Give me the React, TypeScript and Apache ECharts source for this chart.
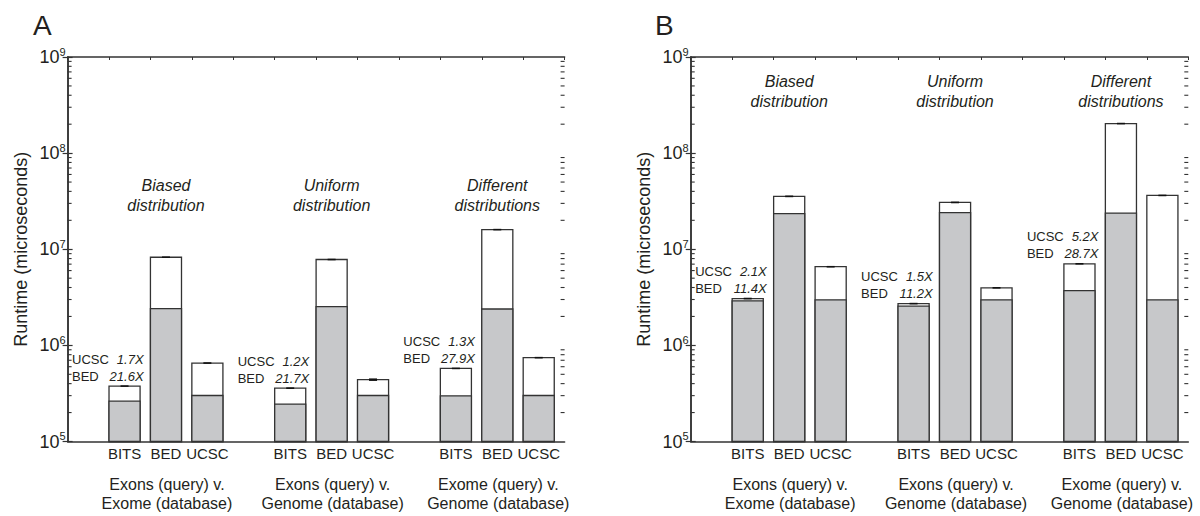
import React, { useEffect, useRef } from "react";
import * as echarts from "echarts";

// ---------- data ----------
const tools = ["BITS", "BED", "UCSC"];
const comparisons = [
  "Exons (query) v.\nExome (database)",
  "Exons (query) v.\nGenome (database)",
  "Exome (query) v.\nGenome (database)",
];
const distributions = ["Biased\ndistribution", "Uniform\ndistribution", "Different\ndistributions"];
const panelLetters = ["A", "B"];

// Panel A (runtime, microseconds): total bar height and grey (lower) part
const totalA = [3.77e5, 8.26e6, 6.55e5, 3.59e5, 7.82e6, 4.4e5, 5.76e5, 1.6e7, 7.45e5];
const greyA = [2.63e5, 2.41e6, 3.01e5, 2.45e5, 2.53e6, 3.01e5, 2.99e5, 2.39e6, 3.01e5];
const errA = [0.01, 0.006, 0.02, 0.02, 0.01, 0.03, 0.006, 0.006, 0.015];
const speedUcscA = ["1.7X", "1.2X", "1.3X"];
const speedBedA = ["21.6X", "21.7X", "27.9X"];

// Panel B
const totalB = [3.07e6, 3.55e7, 6.58e6, 2.72e6, 3.07e7, 3.97e6, 7.06e6, 2.03e8, 3.63e7];
const greyB = [2.91e6, 2.35e7, 2.98e6, 2.56e6, 2.4e7, 2.98e6, 3.72e6, 2.38e7, 2.98e6];
const errB = [0.02, 0.02, 0.015, 0.015, 0.02, 0.015, 0.015, 0.01, 0.006];
const speedUcscB = ["2.1X", "1.5X", "5.2X"];
const speedBedB = ["11.4X", "11.2X", "28.7X"];

// level (in runtime units) at which the distribution captions sit
const captionLevel = [3.6e7, 4.4e8];

const yMin = 1e5;
const yMax = 1e9;
const decades = [5, 6, 7, 8];
const minorMult = [2, 3, 4, 5, 6, 7, 8, 9];

// ---------- style ----------
const FONT = '"Liberation Sans", Arial, Helvetica, sans-serif';
const TXT = "#231f20";
const AX = "#333333";
const GREY = "#c7c8ca";
const BAR_W = 0.75;

function panelSeries(p: number, totals: number[], greys: number[], errs: number[], ucsc: string[], bed: string[]) {
  const xi = p * 2;
  const yi = p * 2;
  const barData = totals.map((t, i) => {
    const g = Math.floor(i / 3);
    const j = i % 3;
    return [g * 4 + j + 1, t, greys[i], errs[i], j];
  });
  const groupData = [0, 1, 2].map((g) => [g * 4 + 1, totals[g * 3], g]);
  const minorData: number[][] = [];
  decades.forEach((d) => minorMult.forEach((m) => minorData.push([0, m * Math.pow(10, d)])));

  const bars = {
    type: "custom",
    xAxisIndex: xi,
    yAxisIndex: yi,
    data: barData,
    z: 3,
    renderItem: (params: any, api: any) => {
      const x0 = api.value(0);
      const total = api.value(1);
      const grey = api.value(2);
      const err = api.value(3);
      const j = api.value(4);
      const base = api.coord([x0, yMin]);
      const right = api.coord([x0 + BAR_W, yMin])[0];
      const top = api.coord([x0, total])[1];
      const gTop = api.coord([x0, grey])[1];
      const left = base[0];
      const w = right - left;
      const cx = (left + right) / 2;
      const hi = api.coord([x0, total * (1 + err)])[1];
      const lo = api.coord([x0, total * (1 - err)])[1];
      const capH = Math.max(1.6, lo - hi);
      return {
        type: "group",
        children: [
          {
            type: "rect",
            shape: { x: left, y: top, width: w, height: base[1] - top },
            style: { fill: "#ffffff", stroke: AX, lineWidth: 1.3 },
          },
          {
            type: "rect",
            shape: { x: left, y: gTop, width: w, height: base[1] - gTop },
            style: { fill: GREY, stroke: AX, lineWidth: 1.3 },
          },
          {
            type: "rect",
            shape: { x: cx - 4, y: (hi + lo) / 2 - capH / 2, width: 8, height: capH },
            style: { fill: "#111111" },
          },
          {
            type: "text",
            x: cx,
            y: base[1] + 12,
            style: {
              text: tools[j],
              fill: TXT,
              fontSize: 15,
              fontFamily: FONT,
              align: "center",
              verticalAlign: "middle",
            },
          },
        ],
      };
    },
  };

  const groups = {
    type: "custom",
    xAxisIndex: xi,
    yAxisIndex: yi,
    data: groupData,
    z: 4,
    renderItem: (params: any, api: any) => {
      const x0 = api.value(0);
      const total = api.value(1);
      const g = api.value(2);
      const left = api.coord([x0, yMin])[0];
      const right = api.coord([x0 + BAR_W, yMin])[0];
      const base = api.coord([x0, yMin])[1];
      const top = api.coord([x0, total])[1];
      const bedCx = api.coord([x0 + 1 + BAR_W / 2, yMin])[0];
      const capY = api.coord([x0, captionLevel[p]])[1];
      const txt = (text: string, x: number, y: number, align: string, italic: boolean, size: number, lh?: number) => ({
        type: "text",
        x,
        y,
        style: {
          text,
          fill: TXT,
          fontSize: size,
          fontFamily: FONT,
          fontStyle: italic ? "italic" : "normal",
          align,
          verticalAlign: "middle",
          lineHeight: lh || size * 1.2,
        },
      });
      return {
        type: "group",
        children: [
          txt("UCSC", left - 37, top - 27, "left", false, 13),
          txt(ucsc[g], right + 3.5, top - 27, "right", true, 13),
          txt("BED", left - 37, top - 10, "left", false, 13),
          txt(bed[g], right + 3.5, top - 10, "right", true, 13),
          txt(comparisons[g], bedCx + 1, base + 52.5, "center", false, 16, 19.5),
          txt(distributions[g], bedCx, capY, "center", true, 16, 20),
        ],
      };
    },
  };

  const minor = {
    type: "custom",
    xAxisIndex: xi,
    yAxisIndex: yi,
    data: minorData,
    z: 5,
    renderItem: (params: any, api: any) => {
      const v = api.value(1);
      const l = api.coord([0, v]);
      const r = api.coord([12, v]);
      return {
        type: "group",
        children: [
          { type: "line", shape: { x1: l[0], y1: l[1], x2: l[0] + 4, y2: l[1] }, style: { stroke: AX, lineWidth: 1.1 } },
          { type: "line", shape: { x1: r[0], y1: r[1], x2: r[0] - 4, y2: r[1] }, style: { stroke: AX, lineWidth: 1.1 } },
        ],
      };
    },
  };

  return [bars, groups, minor];
}

function yAxes(grid: number) {
  const common = {
    type: "log",
    logBase: 10,
    min: yMin,
    max: yMax,
    gridIndex: grid,
    splitLine: { show: false },
    axisLine: { show: true, lineStyle: { color: AX, width: 1.5 } },
    axisTick: { show: true, inside: true, length: 5, lineStyle: { color: AX, width: 1.2 } },
  };
  return [
    {
      ...common,
      position: "left",
      name: "Runtime (microseconds)",
      nameLocation: "middle",
      nameGap: 38,
      nameTextStyle: { fontSize: 18, fontFamily: FONT, color: TXT },
      axisLabel: {
        margin: 2,
        fontSize: 18,
        formatter: (v: number) => `{b|10}{s|${Math.round(Math.log10(v))}}`,
        rich: {
          b: { fontSize: 18, fontFamily: FONT, color: TXT },
          s: { fontSize: 11, fontFamily: FONT, color: TXT, padding: [0, 0, 11, 0] },
        },
      },
    },
    { ...common, position: "right", axisLabel: { show: false } },
  ];
}

function xAxes(grid: number) {
  const common = {
    type: "value",
    min: 0,
    max: 12,
    interval: 1,
    gridIndex: grid,
    splitLine: { show: false },
    axisLabel: { show: false },
    axisLine: { show: true, onZero: false, lineStyle: { color: AX, width: 1.5 } },
  };
  return [
    { ...common, position: "bottom", axisTick: { show: false } },
    { ...common, position: "top", axisTick: { show: true, inside: true, length: 3, lineStyle: { color: AX, width: 1 } } },
  ];
}

export default function App() {
  const ref = useRef<HTMLDivElement>(null);
  useEffect(() => {
    if (!ref.current) return;
    const chart = echarts.init(ref.current, null, { renderer: "svg" });
    chart.setOption({
      animation: false,
      backgroundColor: "#ffffff",
      title: [
        { text: panelLetters[0], left: 28, top: 6, textStyle: { fontSize: 28, fontWeight: "normal", fontFamily: FONT, color: TXT } },
        { text: panelLetters[1], left: 650, top: 6, textStyle: { fontSize: 28, fontWeight: "normal", fontFamily: FONT, color: TXT } },
      ],
      grid: [
        { left: 67.6, top: 57, width: 497, height: 384.5 },
        { left: 690.7, top: 57, width: 497.6, height: 384.5 },
      ],
      xAxis: [...xAxes(0), ...xAxes(1)],
      yAxis: [...yAxes(0), ...yAxes(1)],
      series: [
        ...panelSeries(0, totalA, greyA, errA, speedUcscA, speedBedA),
        ...panelSeries(1, totalB, greyB, errB, speedUcscB, speedBedB),
      ],
    });
    return () => chart.dispose();
  }, []);
  return <div ref={ref} style={{ position: "absolute", left: 0, top: 0, width: 1200, height: 516 }} />;
}
